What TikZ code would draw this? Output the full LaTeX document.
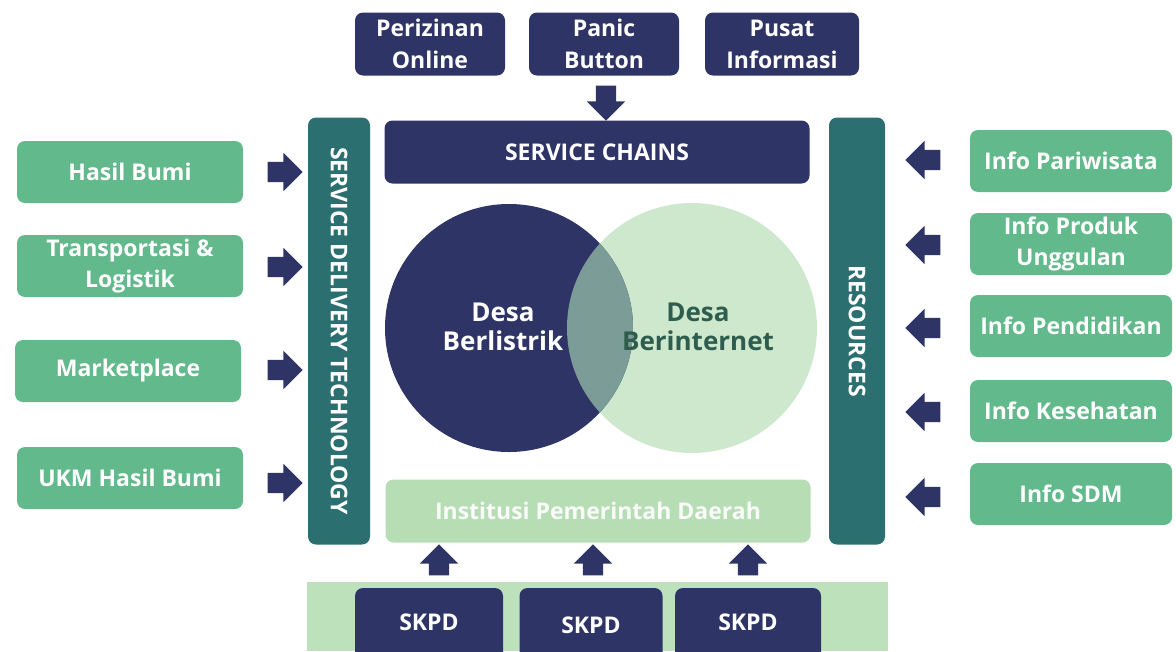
\documentclass[tikz,border=0pt]{standalone}
\usepackage{fontspec}
\setmainfont{Open Sans}
\usetikzlibrary{shapes.arrows}
\definecolor{navy}{HTML}{2E3466}
\definecolor{gbox}{HTML}{62B98B}
\definecolor{teal}{HTML}{2B6F70}
\definecolor{lcirc}{HTML}{CDE8CC}
\definecolor{lbar}{HTML}{B7DDB5}
\definecolor{band}{HTML}{BDE2BB}
\definecolor{olap}{HTML}{7C9C97}
\definecolor{dgtext}{HTML}{2E5C4E}
\begin{document}
\begin{tikzpicture}[x=1pt,y=-1pt,
  base/.style={rounded corners=8pt, align=center, text=white,
    font=\fontsize{23}{31}\selectfont\bfseries, inner sep=0pt},
  navybox/.style={base, fill=navy},
  greenbox/.style={base, fill=gbox, minimum width=226pt, minimum height=62pt},
  infobox/.style={base, fill=gbox, minimum width=202pt, minimum height=62pt},
  tealbar/.style={base, fill=teal, minimum width=427pt},
  barrow/.style={single arrow, fill=navy, inner sep=10pt, minimum height=35pt,
    single arrow head extend=9pt, single arrow head indent=0pt}]
\useasboundingbox (0,0) rectangle (1176,651);
\fill[white] (0,0) rectangle (1176,651);
% top boxes
\node[navybox, minimum width=150pt, minimum height=63pt, font=\fontsize{23}{32}\selectfont\bfseries] (peri) at (430,44) {Perizinan\\Online};
\node[navybox, minimum width=150pt, minimum height=63pt, font=\fontsize{23}{32}\selectfont\bfseries] (panic) at (604,44) {Panic\\Button};
\node[navybox, minimum width=154pt, minimum height=63pt, font=\fontsize{23}{32}\selectfont\bfseries] (pusat) at (782,44) {Pusat\\Informasi};
\node[barrow, shape border rotate=270] (adown) at (606,98) {};
% service chains
\node[navybox, minimum width=425pt, minimum height=63pt] (chains) at (597,152) {SERVICE CHAINS};
% side bars
\node[tealbar, minimum height=62pt, rotate=-90] (sdt) at (339,331) {SERVICE DELIVERY TECHNOLOGY};
\node[tealbar, minimum height=56pt, rotate=-90] (res) at (857,331) {RESOURCES};
% circles
\fill[lcirc] (692,328) circle (125);
\fill[navy] (509,328) circle (124);
\begin{scope}
  \clip (509,328) circle (124);
  \fill[olap] (692,328) circle (125);
\end{scope}
\node[base, font=\fontsize{26}{29}\selectfont\bfseries] (dl) at (503,327) {Desa\\Berlistrik};
\node[base, text=dgtext, font=\fontsize{26}{29}\selectfont\bfseries] (di) at (698,327) {Desa\\Berinternet};
% institusi
\node[base, fill=lbar, minimum width=425pt, minimum height=63pt, text=white!92!lbar] (inst) at (598,511) {Institusi Pemerintah Daerah};
% left boxes
\node[greenbox] (hb) at (130,172) {Hasil Bumi};
\node[greenbox] (tl) at (130,266) {Transportasi \&\\Logistik};
\node[greenbox] (mp) at (128,371) {Marketplace};
\node[greenbox] (ukm) at (130,478) {UKM Hasil Bumi};
\foreach \y/\n in {172/a1,267/a2,370/a3,483/a4}
  \node[barrow] (\n) at (280,\y) {};
% right boxes
\node[infobox] (ip) at (1071,161) {Info Pariwisata};
\node[infobox] (iu) at (1071,244) {Info Produk\\Unggulan};
\node[infobox] (ipd) at (1071,326) {Info Pendidikan};
\node[infobox] (ik) at (1071,411) {Info Kesehatan};
\node[infobox] (isdm) at (1071,494) {Info SDM};
\foreach \y/\n in {160/b1,245/b2,328/b3,412/b4,497/b5}
  \node[barrow, shape border rotate=180] (\n) at (928,\y) {};
% up arrows
\foreach \x/\n in {439/c1,593/c2,748/c3}
  \node[barrow, shape border rotate=90, minimum height=31pt] (\n) at (\x,565) {};
% bottom band
\begin{scope}
  \clip (0,0) rectangle (1176,651);
  \fill[band] (307,582) rectangle (888,651);
  \node[navybox, minimum width=148pt, minimum height=76pt] (s1) at (429,626) {};
  \node[navybox, minimum width=143pt, minimum height=76pt] (s2) at (591,626) {};
  \node[navybox, minimum width=146pt, minimum height=76pt] (s3) at (748,626) {};
\end{scope}
\node[base] (t1) at (429,622) {SKPD};
\node[base] (t2) at (591,625) {SKPD};
\node[base] (t3) at (748,622) {SKPD};
\end{tikzpicture}
\end{document}
